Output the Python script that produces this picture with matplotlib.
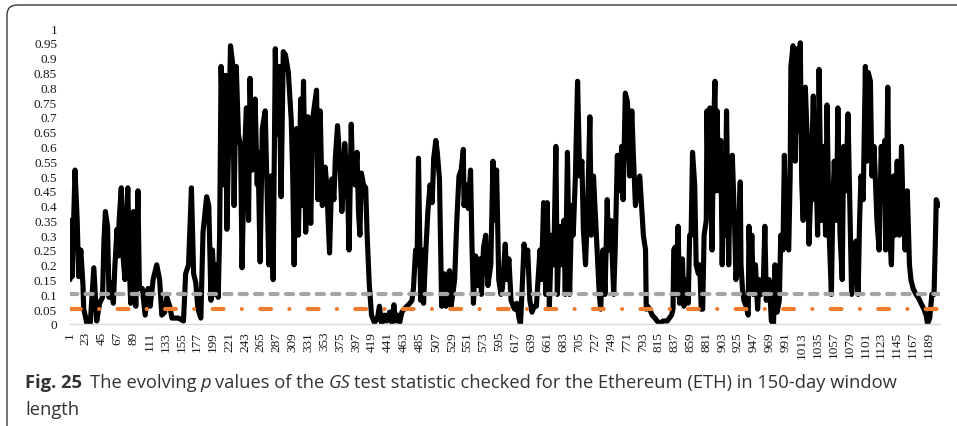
import matplotlib
matplotlib.use("Agg")
import matplotlib.pyplot as plt
from matplotlib.patches import FancyBboxPatch
from matplotlib.transforms import IdentityTransform

plt.rcParams["font.family"] = "serif"
plt.rcParams["font.serif"] = ["Liberation Serif", "DejaVu Serif"]

# p values of the GS statistic, ETH, 150-day rolling window
n_windows = 1204
day = [
    1, 2, 4, 8, 11, 13, 16, 19, 20, 22, 24, 29, 34, 37, 38, 42, 46, 48, 50, 53,
    55, 58, 61, 63, 66, 68, 69, 72, 74, 77, 78, 81, 84, 85, 86, 89, 92, 95, 97, 101,
    105, 109, 112, 116, 121, 125, 128, 132, 135, 139, 142, 151, 158, 161, 165, 169, 172, 175, 178, 182,
    185, 190, 193, 196, 198, 201, 204, 206, 208, 210, 214, 216, 218, 220, 223, 226, 228, 231, 234, 237,
    239, 242, 245, 248, 250, 253, 257, 260, 261, 264, 267, 271, 273, 276, 279, 282, 285, 287, 290, 293,
    296, 299, 303, 307, 309, 311, 314, 317, 320, 321, 324, 327, 330, 332, 334, 337, 342, 344, 347, 350,
    354, 356, 360, 363, 366, 368, 371, 374, 377, 379, 381, 385, 387, 390, 392, 395, 398, 400, 402, 404,
    407, 410, 412, 415, 416, 418, 422, 426, 429, 432, 436, 439, 443, 446, 449, 451, 454, 457, 460, 463,
    467, 471, 474, 476, 479, 481, 483, 486, 488, 490, 493, 496, 499, 502, 504, 507, 509, 512, 515, 518,
    521, 523, 526, 528, 531, 533, 536, 539, 542, 545, 546, 549, 552, 555, 557, 559, 562, 565, 568, 570,
    573, 576, 579, 583, 586, 588, 591, 594, 597, 599, 603, 605, 608, 611, 614, 616, 619, 622, 624, 626,
    629, 632, 634, 637, 640, 643, 646, 651, 653, 656, 659, 661, 664, 667, 670, 673, 675, 678, 681, 684,
    686, 689, 692, 695, 697, 700, 703, 706, 709, 711, 714, 717, 720, 722, 725, 728, 731, 733, 735, 738,
    741, 744, 746, 749, 753, 755, 758, 761, 764, 766, 769, 772, 775, 778, 780, 783, 786, 789, 791, 794,
    797, 798, 800, 803, 806, 810, 813, 817, 821, 824, 827, 830, 833, 835, 836, 838, 840, 842, 844, 846,
    848, 850, 853, 856, 858, 860, 862, 865, 867, 870, 872, 874, 876, 878, 881, 882, 884, 886, 889, 891,
    893, 894, 896, 898, 901, 903, 905, 907, 909, 912, 914, 916, 917, 920, 922, 925, 928, 929, 931, 933,
    936, 939, 940, 942, 944, 946, 949, 952, 954, 957, 960, 962, 964, 966, 968, 971, 974, 976, 979, 982,
    984, 987, 989, 992, 995, 997, 998, 1001, 1004, 1007, 1010, 1011, 1013, 1015, 1018, 1021, 1023, 1026, 1029, 1031,
    1033, 1035, 1037, 1040, 1043, 1046, 1048, 1051, 1054, 1056, 1058, 1061, 1063, 1066, 1069, 1071, 1074, 1077, 1080, 1082,
    1085, 1088, 1091, 1093, 1095, 1098, 1101, 1103, 1105, 1108, 1110, 1113, 1115, 1117, 1120, 1123, 1125, 1128, 1129, 1132,
    1134, 1137, 1140, 1142, 1145, 1148, 1151, 1153, 1156, 1159, 1162, 1164, 1167, 1171, 1174, 1178, 1182, 1185, 1187, 1190,
    1193, 1196, 1198, 1199, 1202,
]
pval = [
    0.15, 0.35, 0.16, 0.52, 0.35, 0.16, 0.25, 0.13, 0.05, 0.03, 0.005, 0.0, 0.19, 0.05, 0.01, 0.07, 0.09, 0.28, 0.38, 0.33,
    0.09, 0.14, 0.07, 0.19, 0.32, 0.23, 0.35, 0.46, 0.24, 0.15, 0.30, 0.46, 0.13, 0.07, 0.37, 0.38, 0.06, 0.45, 0.12, 0.12,
    0.03, 0.12, 0.06, 0.15, 0.20, 0.15, 0.03, 0.04, 0.09, 0.06, 0.02, 0.02, 0.01, 0.17, 0.20, 0.46, 0.17, 0.14, 0.05, 0.02,
    0.31, 0.43, 0.40, 0.08, 0.25, 0.10, 0.20, 0.09, 0.30, 0.87, 0.47, 0.84, 0.32, 0.56, 0.94, 0.88, 0.40, 0.87, 0.64, 0.60,
    0.19, 0.55, 0.73, 0.35, 0.83, 0.52, 0.76, 0.47, 0.58, 0.21, 0.66, 0.72, 0.51, 0.20, 0.50, 0.15, 0.93, 0.64, 0.87, 0.43,
    0.92, 0.91, 0.85, 0.69, 0.51, 0.20, 0.66, 0.30, 0.76, 0.40, 0.82, 0.31, 0.70, 0.45, 0.34, 0.70, 0.79, 0.42, 0.72, 0.40,
    0.53, 0.47, 0.24, 0.49, 0.42, 0.56, 0.67, 0.56, 0.38, 0.47, 0.61, 0.445, 0.25, 0.675, 0.49, 0.47, 0.58, 0.38, 0.30, 0.51,
    0.47, 0.46, 0.30, 0.13, 0.10, 0.03, 0.005, 0.017, 0.06, 0.0, 0.03, 0.01, 0.04, 0.005, 0.065, 0.01, 0.03, 0.005, 0.04, 0.05,
    0.06, 0.07, 0.08, 0.12, 0.25, 0.20, 0.56, 0.08, 0.25, 0.07, 0.24, 0.38, 0.47, 0.41, 0.56, 0.62, 0.58, 0.49, 0.06, 0.17,
    0.06, 0.16, 0.18, 0.06, 0.11, 0.15, 0.35, 0.50, 0.52, 0.59, 0.40, 0.47, 0.39, 0.52, 0.26, 0.07, 0.23, 0.13, 0.22, 0.10,
    0.26, 0.30, 0.13, 0.20, 0.55, 0.35, 0.52, 0.15, 0.10, 0.12, 0.27, 0.15, 0.22, 0.08, 0.06, 0.05, 0.07, 0.02, 0.0, 0.10,
    0.27, 0.20, 0.25, 0.08, 0.04, 0.06, 0.06, 0.25, 0.15, 0.41, 0.10, 0.41, 0.06, 0.30, 0.20, 0.60, 0.10, 0.33, 0.20, 0.35,
    0.10, 0.58, 0.10, 0.40, 0.30, 0.50, 0.82, 0.50, 0.55, 0.32, 0.20, 0.40, 0.70, 0.30, 0.50, 0.35, 0.20, 0.10, 0.05, 0.25,
    0.10, 0.42, 0.25, 0.35, 0.10, 0.25, 0.57, 0.45, 0.60, 0.42, 0.78, 0.75, 0.50, 0.72, 0.58, 0.40, 0.45, 0.50, 0.42, 0.30,
    0.25, 0.05, 0.06, 0.05, 0.03, 0.02, 0.01, 0.0, 0.01, 0.01, 0.01, 0.02, 0.03, 0.05, 0.25, 0.26, 0.10, 0.33, 0.07, 0.20,
    0.22, 0.06, 0.15, 0.07, 0.30, 0.30, 0.58, 0.47, 0.20, 0.17, 0.20, 0.05, 0.05, 0.30, 0.35, 0.72, 0.40, 0.73, 0.25, 0.65,
    0.82, 0.45, 0.72, 0.45, 0.62, 0.20, 0.50, 0.30, 0.72, 0.20, 0.50, 0.42, 0.57, 0.35, 0.15, 0.25, 0.48, 0.20, 0.12, 0.08,
    0.06, 0.03, 0.33, 0.18, 0.30, 0.10, 0.20, 0.05, 0.15, 0.10, 0.15, 0.33, 0.08, 0.13, 0.15, 0.01, 0.0, 0.20, 0.04, 0.08,
    0.30, 0.25, 0.57, 0.27, 0.25, 0.50, 0.87, 0.94, 0.55, 0.93, 0.65, 0.95, 0.48, 0.35, 0.80, 0.60, 0.27, 0.48, 0.77, 0.42,
    0.50, 0.30, 0.86, 0.35, 0.60, 0.30, 0.74, 0.30, 0.10, 0.40, 0.55, 0.35, 0.73, 0.30, 0.15, 0.60, 0.45, 0.71, 0.35, 0.10,
    0.20, 0.28, 0.10, 0.35, 0.50, 0.42, 0.87, 0.55, 0.85, 0.82, 0.50, 0.60, 0.48, 0.35, 0.25, 0.60, 0.45, 0.62, 0.25, 0.80,
    0.33, 0.20, 0.50, 0.30, 0.55, 0.30, 0.60, 0.40, 0.25, 0.45, 0.20, 0.15, 0.12, 0.10, 0.09, 0.07, 0.05, 0.03, 0.0, 0.02,
    0.10, 0.10, 0.30, 0.42, 0.40,
]
alpha_10 = 0.10
alpha_05 = 0.05
xtick_days = list(range(1, 1190, 22))
ytick_vals = [k * 0.05 for k in range(21)]

W, H = 957, 427
fig = plt.figure(figsize=(W / 100, H / 100), dpi=100)

# rounded frame round the figure + caption
frame = FancyBboxPatch((7, -30), 1000, 451, boxstyle="round,pad=0,rounding_size=10",
                       transform=IdentityTransform(), fc="none", ec="#3a3a3a", lw=1.0)
fig.patches.append(frame)

ax = fig.add_axes([69.6 / W, 102 / H, 870.6 / W, 296 / H])
ax.plot(day, pval, color="black", lw=3.7, solid_joinstyle="round", solid_capstyle="round", zorder=2)
ax.plot([1, n_windows], [alpha_10, alpha_10], color="#a5a5a5", lw=3.0,
        dashes=(1.75, 1.95), dash_capstyle="round", zorder=3)
ax.plot([1, n_windows], [alpha_05, alpha_05], color="#ed7d31", lw=3.0,
        dashes=(2.6, 4.4, 0.01, 4.4), dash_capstyle="round", zorder=3)

ax.set_xlim(0.5, n_windows + 0.5)
ax.set_ylim(0, 1)
ax.set_xticks(xtick_days)
ax.set_xticklabels([str(d) for d in xtick_days], rotation=90, fontsize=9.5, color="#1a1a1a")
ax.set_yticks(ytick_vals)
ax.set_yticklabels([f"{v:g}" for v in ytick_vals], fontsize=9.5, color="#1a1a1a")
ax.tick_params(axis="both", length=0)
ax.tick_params(axis="y", pad=9)
ax.tick_params(axis="x", pad=5)
for s in ["top", "right", "left"]:
    ax.spines[s].set_visible(False)
ax.spines["bottom"].set_color("#d9d9d9")
ax.spines["bottom"].set_linewidth(1.0)
ax.set_facecolor("none")

# caption, built from pieces so bold / italic parts sit inline
cap_font = ["Open Sans", "DejaVu Sans"]
cap_size = 13.2
cap_col = "#333333"
pieces = [("Fig. 25", "bold", "normal"), ("  ", "normal", "normal"),
          ("The evolving", "normal", "normal"), (" ", "normal", "normal"),
          ("p", "normal", "italic"), (" ", "normal", "normal"),
          ("values of the", "normal", "normal"), (" ", "normal", "normal"),
          ("GS", "normal", "italic"), (" ", "normal", "normal"),
          ("test statistic checked for the Ethereum (ETH) in 150-day window", "normal", "normal")]
renderer = fig.canvas.get_renderer()
sp = fig.text(0, 0, "a a", fontsize=cap_size, family=cap_font, transform=IdentityTransform())
sp2 = fig.text(0, 0, "aa", fontsize=cap_size, family=cap_font, transform=IdentityTransform())
space_w = sp.get_window_extent(renderer).width - sp2.get_window_extent(renderer).width
sp.remove(); sp2.remove()
x = 25
base1 = H - 388.3
for txt, wt, st in pieces:
    if txt.strip() == "":
        x += space_w * len(txt) * 0.85
        continue
    t = fig.text(x, base1, txt, fontsize=cap_size, family=cap_font, weight=wt, style=st,
                 color=cap_col, va="baseline", ha="left", transform=IdentityTransform())
    x += t.get_window_extent(renderer).width
fig.text(25, H - 415, "length", fontsize=cap_size, family=cap_font, color=cap_col,
         va="baseline", ha="left", transform=IdentityTransform())

fig.savefig("out.png", dpi=100)
